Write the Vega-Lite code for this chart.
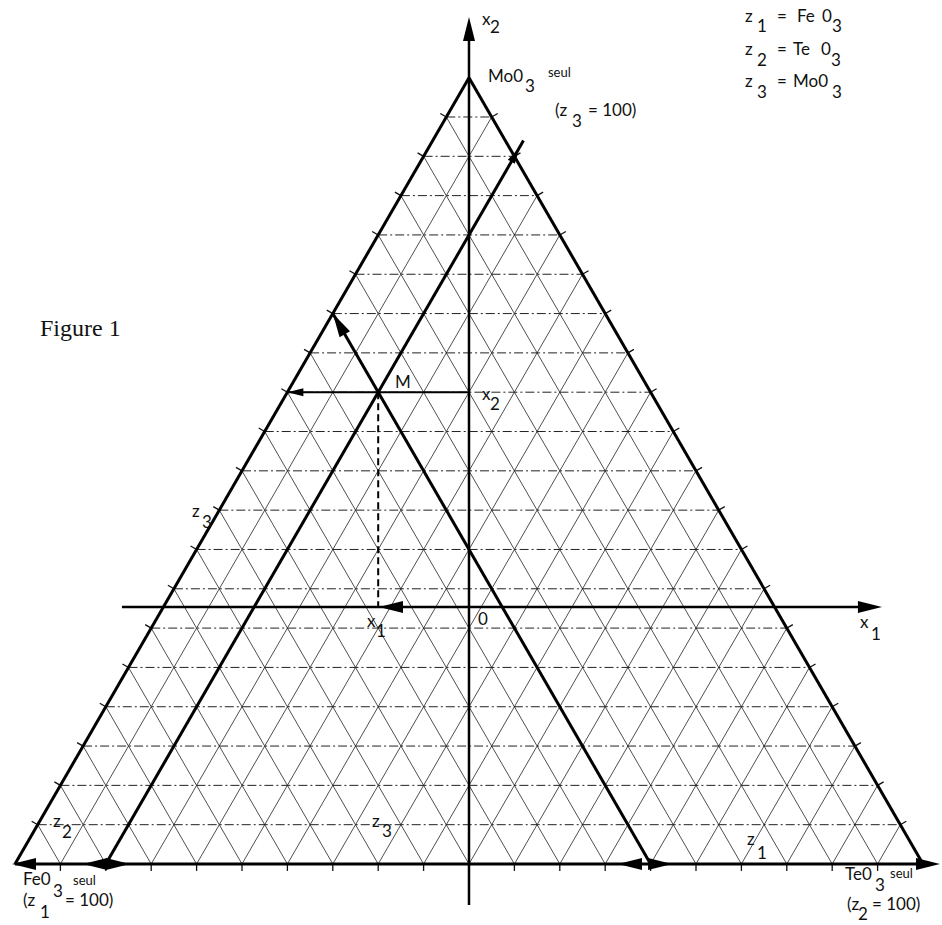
{
 "$schema": "https://vega.github.io/schema/vega-lite/v6.json",
 "width": 942, "height": 925, "padding": 0, "autosize": {"type": "none"},
 "background": "white",
 "config": {"view": {"stroke": null}},
 "datasets": {
  "hgrid": [
   {"x":2.5,"y":4.33,"x2":97.5,"y2":4.33},{"x":5,"y":8.66,"x2":95,"y2":8.66},{"x":7.5,"y":12.99,"x2":92.5,"y2":12.99},
   {"x":10,"y":17.32,"x2":90,"y2":17.32},{"x":12.5,"y":21.65,"x2":87.5,"y2":21.65},{"x":15,"y":25.98,"x2":85,"y2":25.98},
   {"x":17.5,"y":30.31,"x2":82.5,"y2":30.31},{"x":20,"y":34.64,"x2":80,"y2":34.64},{"x":22.5,"y":38.97,"x2":77.5,"y2":38.97},
   {"x":25,"y":43.3,"x2":75,"y2":43.3},{"x":27.5,"y":47.63,"x2":72.5,"y2":47.63},{"x":30,"y":51.96,"x2":70,"y2":51.96},
   {"x":32.5,"y":56.29,"x2":67.5,"y2":56.29},{"x":35,"y":60.62,"x2":65,"y2":60.62},{"x":37.5,"y":64.95,"x2":62.5,"y2":64.95},
   {"x":40,"y":69.28,"x2":60,"y2":69.28},{"x":42.5,"y":73.61,"x2":57.5,"y2":73.61},{"x":45,"y":77.94,"x2":55,"y2":77.94},
   {"x":47.5,"y":82.27,"x2":52.5,"y2":82.27}
  ],
  "sgrid": [
   {"x":5,"y":0,"x2":52.5,"y2":82.27},{"x":10,"y":0,"x2":55,"y2":77.94},{"x":15,"y":0,"x2":57.5,"y2":73.61},
   {"x":20,"y":0,"x2":60,"y2":69.28},{"x":25,"y":0,"x2":62.5,"y2":64.95},{"x":30,"y":0,"x2":65,"y2":60.62},
   {"x":35,"y":0,"x2":67.5,"y2":56.29},{"x":40,"y":0,"x2":70,"y2":51.96},{"x":45,"y":0,"x2":72.5,"y2":47.63},
   {"x":50,"y":0,"x2":75,"y2":43.3},{"x":55,"y":0,"x2":77.5,"y2":38.97},{"x":60,"y":0,"x2":80,"y2":34.64},
   {"x":65,"y":0,"x2":82.5,"y2":30.31},{"x":70,"y":0,"x2":85,"y2":25.98},{"x":75,"y":0,"x2":87.5,"y2":21.65},
   {"x":80,"y":0,"x2":90,"y2":17.32},{"x":85,"y":0,"x2":92.5,"y2":12.99},{"x":90,"y":0,"x2":95,"y2":8.66},
   {"x":95,"y":0,"x2":97.5,"y2":4.33},
   {"x":5,"y":0,"x2":2.5,"y2":4.33},{"x":10,"y":0,"x2":5,"y2":8.66},{"x":15,"y":0,"x2":7.5,"y2":12.99},
   {"x":20,"y":0,"x2":10,"y2":17.32},{"x":25,"y":0,"x2":12.5,"y2":21.65},{"x":30,"y":0,"x2":15,"y2":25.98},
   {"x":35,"y":0,"x2":17.5,"y2":30.31},{"x":40,"y":0,"x2":20,"y2":34.64},{"x":45,"y":0,"x2":22.5,"y2":38.97},
   {"x":50,"y":0,"x2":25,"y2":43.3},{"x":55,"y":0,"x2":27.5,"y2":47.63},{"x":60,"y":0,"x2":30,"y2":51.96},
   {"x":65,"y":0,"x2":32.5,"y2":56.29},{"x":70,"y":0,"x2":35,"y2":60.62},{"x":75,"y":0,"x2":37.5,"y2":64.95},
   {"x":80,"y":0,"x2":40,"y2":69.28},{"x":85,"y":0,"x2":42.5,"y2":73.61},{"x":90,"y":0,"x2":45,"y2":77.94},
   {"x":95,"y":0,"x2":47.5,"y2":82.27}
  ],
  "ticks": [
   {"e":"b","x":5,"y":-0.38},{"e":"b","x":10,"y":-0.38},{"e":"b","x":15,"y":-0.38},{"e":"b","x":20,"y":-0.38},{"e":"b","x":25,"y":-0.38},
   {"e":"b","x":30,"y":-0.38},{"e":"b","x":35,"y":-0.38},{"e":"b","x":40,"y":-0.38},{"e":"b","x":45,"y":-0.38},{"e":"b","x":50,"y":-0.38},
   {"e":"b","x":55,"y":-0.38},{"e":"b","x":60,"y":-0.38},{"e":"b","x":65,"y":-0.38},{"e":"b","x":70,"y":-0.38},{"e":"b","x":75,"y":-0.38},
   {"e":"b","x":80,"y":-0.38},{"e":"b","x":85,"y":-0.38},{"e":"b","x":90,"y":-0.38},{"e":"b","x":95,"y":-0.38},
   {"e":"l","x":2.17,"y":4.52},{"e":"l","x":4.67,"y":8.85},{"e":"l","x":7.17,"y":13.18},{"e":"l","x":9.67,"y":17.51},{"e":"l","x":12.17,"y":21.84},
   {"e":"l","x":14.67,"y":26.17},{"e":"l","x":17.17,"y":30.5},{"e":"l","x":19.67,"y":34.83},{"e":"l","x":22.17,"y":39.16},{"e":"l","x":24.67,"y":43.49},
   {"e":"l","x":27.17,"y":47.82},{"e":"l","x":29.67,"y":52.15},{"e":"l","x":32.17,"y":56.48},{"e":"l","x":34.67,"y":60.81},{"e":"l","x":37.17,"y":65.14},
   {"e":"l","x":39.67,"y":69.47},{"e":"l","x":42.17,"y":73.8},{"e":"l","x":44.67,"y":78.13},{"e":"l","x":47.17,"y":82.46},
   {"e":"r","x":97.83,"y":4.52},{"e":"r","x":95.33,"y":8.85},{"e":"r","x":92.83,"y":13.18},{"e":"r","x":90.33,"y":17.51},{"e":"r","x":87.83,"y":21.84},
   {"e":"r","x":85.33,"y":26.17},{"e":"r","x":82.83,"y":30.5},{"e":"r","x":80.33,"y":34.83},{"e":"r","x":77.83,"y":39.16},{"e":"r","x":75.33,"y":43.49},
   {"e":"r","x":72.83,"y":47.82},{"e":"r","x":70.33,"y":52.15},{"e":"r","x":67.83,"y":56.48},{"e":"r","x":65.33,"y":60.81},{"e":"r","x":62.83,"y":65.14},
   {"e":"r","x":60.33,"y":69.47},{"e":"r","x":57.83,"y":73.8},{"e":"r","x":55.33,"y":78.13},{"e":"r","x":52.83,"y":82.46}
  ],
  "edges": [
   {"x":0,"y":0,"x2":100,"y2":0},{"x":0,"y":0,"x2":50,"y2":86.6},{"x":100,"y":0,"x2":50,"y2":86.6},
   {"x":10,"y":0,"x2":56,"y2":79.67},{"x":70,"y":0,"x2":35,"y2":60.62}
  ],
  "axes": [
   {"x":50,"y":-4.52,"x2":50,"y2":90.8},{"x":11.78,"y":28.3,"x2":93.5,"y2":28.3}
  ],
  "mid": [{"x":30,"y":51.96,"x2":50,"y2":51.96}],
  "dashed": [{"x":40,"y":51.96,"x2":40,"y2":28.3}],
  "arrowBig": [
   {"x":50,"y":91.96,"h":0},{"x":94.16,"y":28.3,"h":90},{"x":0.99,"y":0,"h":270},{"x":100.55,"y":0,"h":90},
   {"x":35.66,"y":59.48,"h":330},{"x":8.81,"y":0,"h":270},{"x":11.34,"y":0,"h":90},
   {"x":67.73,"y":0,"h":270},{"x":71.04,"y":0,"h":90},{"x":41.41,"y":28.3,"h":270}
  ],
  "arrowSmall": [
   {"x":55.1,"y":78.1,"h":30},{"x":30.88,"y":51.96,"h":270}
  ],
  "txt": [
   {"t":"z","x":80.40,"y":92.73},{"t":"1","x":81.72,"y":91.63},{"t":"=","x":83.92,"y":92.73},{"t":"Fe","x":86.12,"y":92.73},{"t":"0","x":88.88,"y":92.73},{"t":"3","x":89.98,"y":91.63},
   {"t":"z","x":80.40,"y":89.10},{"t":"2","x":81.72,"y":87.89},{"t":"=","x":83.92,"y":89.10},{"t":"Te","x":85.68,"y":89.10},{"t":"0","x":88.77,"y":89.10},{"t":"3","x":89.87,"y":87.89},
   {"t":"z","x":80.40,"y":85.57},{"t":"3","x":81.72,"y":84.36},{"t":"=","x":83.92,"y":85.57},{"t":"Mo0","x":85.68,"y":85.57},{"t":"3","x":89.98,"y":84.36},
   {"t":"x","x":51.43,"y":92.40},{"t":"2","x":52.31,"y":91.52},
   {"t":"Mo0","x":52.09,"y":86.12},{"t":"3","x":56.17,"y":85.02},
   {"t":"(z","x":59.47,"y":82.38},{"t":"3","x":61.34,"y":81.17},{"t":"=  100)","x":63.11,"y":82.38},
   {"t":"M","x":41.85,"y":52.42},
   {"t":"x","x":51.43,"y":51.10},{"t":"2","x":52.31,"y":50.0},
   {"t":"z","x":19.49,"y":38.22},{"t":"3","x":20.59,"y":37.0},
   {"t":"0","x":50.99,"y":26.32},
   {"t":"x","x":38.77,"y":26.10},{"t":"1","x":39.76,"y":25.0},
   {"t":"x","x":93.06,"y":25.99},{"t":"1","x":94.27,"y":24.67},
   {"t":"z","x":4.19,"y":4.07},{"t":"2","x":5.18,"y":2.86},
   {"t":"z","x":39.32,"y":4.07},{"t":"3","x":40.42,"y":2.97},
   {"t":"z","x":80.62,"y":2.09},{"t":"1","x":81.72,"y":0.55},
   {"t":"Fe0","x":0.88,"y":-2.31},{"t":"3","x":4.19,"y":-3.63},
   {"t":"(z","x":0.88,"y":-4.63},{"t":"1","x":2.75,"y":-5.95},{"t":"=  100)","x":5.51,"y":-4.63},
   {"t":"Te0","x":91.41,"y":-1.76},{"t":"3","x":94.71,"y":-2.97},
   {"t":"(z","x":91.63,"y":-5.07},{"t":"2","x":92.84,"y":-6.17},{"t":"=   100)","x":94.38,"y":-5.07}
  ],
  "small": [
   {"t":"seul","x":58.70,"y":86.67},{"t":"seul","x":6.39,"y":-2.31},{"t":"seul","x":96.37,"y":-1.54}
  ],
  "title": [{"t":"Figure 1","x":2.75,"y":58.15}]
 },
 "encoding": {
  "x": {"field":"x","type":"quantitative","scale":{"domain":[-1.652,102.093],"nice":false,"zero":false},"axis":null},
  "y": {"field":"y","type":"quantitative","scale":{"domain":[-6.718,95.154],"nice":false,"zero":false},"axis":null}
 },
 "layer": [
  {"data":{"name":"sgrid"},"mark":{"type":"rule","color":"#222","strokeWidth":0.8},
   "encoding":{"x2":{"field":"x2"},"y2":{"field":"y2"}}},
  {"data":{"name":"hgrid"},"mark":{"type":"rule","color":"#222","strokeWidth":1,"strokeDash":[9,3,2,3]},
   "encoding":{"x2":{"field":"x2"},"y2":{"field":"y2"}}},
  {"data":{"name":"ticks"},"transform":[{"filter":"datum.e === 'b'"}],
   "mark":{"type":"point","shape":"stroke","angle":90,"size":49,"color":"#111","strokeWidth":1.3,"filled":false,"opacity":1}},
  {"data":{"name":"ticks"},"transform":[{"filter":"datum.e === 'l'"}],
   "mark":{"type":"point","shape":"stroke","angle":30,"size":49,"color":"#111","strokeWidth":1.3,"filled":false,"opacity":1}},
  {"data":{"name":"ticks"},"transform":[{"filter":"datum.e === 'r'"}],
   "mark":{"type":"point","shape":"stroke","angle":330,"size":49,"color":"#111","strokeWidth":1.3,"filled":false,"opacity":1}},
  {"data":{"name":"edges"},"mark":{"type":"rule","color":"#000","strokeWidth":3},
   "encoding":{"x2":{"field":"x2"},"y2":{"field":"y2"}}},
  {"data":{"name":"axes"},"mark":{"type":"rule","color":"#000","strokeWidth":2.5},
   "encoding":{"x2":{"field":"x2"},"y2":{"field":"y2"}}},
  {"data":{"name":"mid"},"mark":{"type":"rule","color":"#000","strokeWidth":2},
   "encoding":{"x2":{"field":"x2"},"y2":{"field":"y2"}}},
  {"data":{"name":"dashed"},"mark":{"type":"rule","color":"#000","strokeWidth":2,"strokeDash":[7,4]},
   "encoding":{"x2":{"field":"x2"},"y2":{"field":"y2"}}},
  {"data":{"name":"arrowBig"},"mark":{"type":"point","shape":"M0,-1L0.5,1L-0.5,1Z","filled":true,"color":"#000","size":576,"opacity":1},
   "encoding":{"angle":{"field":"h","type":"quantitative","scale":null}}},
  {"data":{"name":"arrowSmall"},"mark":{"type":"point","shape":"M0,-1L0.5,1L-0.5,1Z","filled":true,"color":"#000","size":256,"opacity":1},
   "encoding":{"angle":{"field":"h","type":"quantitative","scale":null}}},
  {"data":{"name":"txt"},"mark":{"type":"text","align":"left","baseline":"alphabetic","font":"Lato","fontSize":17,"color":"#111"},
   "encoding":{"text":{"field":"t","type":"nominal"}}},
  {"data":{"name":"small"},"mark":{"type":"text","align":"left","baseline":"alphabetic","font":"Lato","fontSize":13,"color":"#111"},
   "encoding":{"text":{"field":"t","type":"nominal"}}},
  {"data":{"name":"title"},"mark":{"type":"text","align":"left","baseline":"alphabetic","font":"Liberation Serif","fontSize":24,"color":"#111"},
   "encoding":{"text":{"field":"t","type":"nominal"}}}
 ]
}
